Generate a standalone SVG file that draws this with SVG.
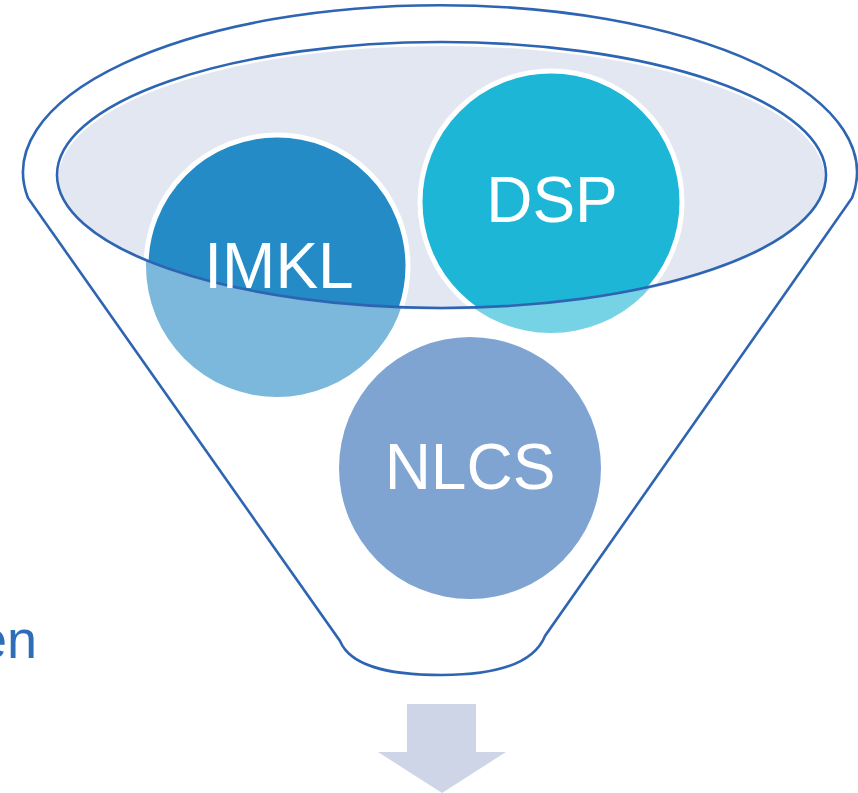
<svg xmlns="http://www.w3.org/2000/svg" width="858" height="793" viewBox="0 0 858 793">
<style>
.line{fill:none;stroke:#2E65B2;stroke-width:2.6}
.lbl{font-family:"Liberation Sans",Arial,sans-serif;font-size:64px;fill:#FFFFFF;text-anchor:middle}
.ring{stroke:#FFFFFF;stroke-width:5}
</style>
<defs>
<clipPath id="mouth"><ellipse cx="441.5" cy="175" rx="384.5" ry="133"/></clipPath>
</defs>
<rect width="858" height="793" fill="#FFFFFF"/>
<g id="funnel">
<path class="line" d="M28,198 A417,167 0 1 1 852,198 L545,636 C532,668 485,675 442,675 C400,675 352,670 340,641 Z"/>
<ellipse cx="441.5" cy="178" rx="383" ry="132" fill="#E3E7F1"/>
</g>
<g id="imkl">
<circle cx="277" cy="266" r="131" fill="#7BB8DC"/>
<circle cx="277" cy="266" r="131" fill="#248BC6" class="ring" clip-path="url(#mouth)"/>
</g>
<g id="dsp">
<circle cx="551" cy="202" r="131" fill="#76D3E6"/>
<circle cx="551" cy="202" r="131" fill="#1EB6D6" class="ring" clip-path="url(#mouth)"/>
</g>
<g id="nlcs">
<circle cx="470" cy="468" r="131" fill="#7FA4D1"/>
</g>
<g id="rim">
<ellipse class="line" cx="441.5" cy="175" rx="384.5" ry="133"/>
</g>
<g id="labels">
<text class="lbl" x="279" y="288">IMKL</text>
<text class="lbl" x="552" y="222">DSP</text>
<text class="lbl" x="470" y="489">NLCS</text>
<text x="37" y="658" font-family="'Liberation Sans',Arial,sans-serif" font-size="54" fill="#2E6DB8" text-anchor="end">en</text>
</g>
<g id="connectors">
<path d="M407,704 H476 V752 H506 L442,793 L378,752 H407 Z" fill="#CED5E7"/>
</g>
</svg>
